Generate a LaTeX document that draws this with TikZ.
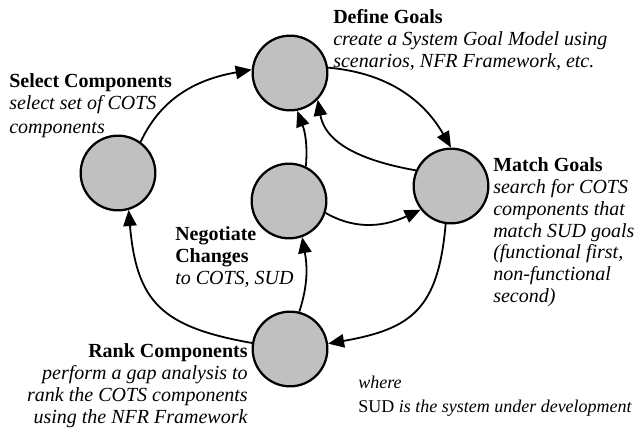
\documentclass[tikz,border=0pt]{standalone}
\usepackage{fontspec}
\setmainfont{Liberation Serif}
\usetikzlibrary{arrows.meta}

\begin{document}
\begin{tikzpicture}[x=0.75pt,y=0.75pt,yscale=-1,xscale=1,
	stage/.style={circle, draw=black, line width=1.7pt, fill={rgb, 255:red, 192; green, 192; blue, 192}, minimum size=56pt, inner sep=0pt},
	flow/.style={line width=1.35pt, -{Triangle[length=12pt,width=10pt]}},
	lbl/.style={font=\fontsize{15pt}{16.4pt}\selectfont, inner sep=0pt}]
	\useasboundingbox (0,0) rectangle (637,433);
	
	% the five steps
	\node [stage] (dg) at (290,73) {};
	\node [stage] (sc) at (118,173) {};
	\node [stage] (nc) at (289,201) {};
	\node [stage] (mg) at (451,186) {};
	\node [stage] (rc) at (290,349) {};
	
	% flows between steps
	\draw [flow] (sc.54) to[out=-65,in=170] (dg.175);
	\draw [flow] (dg.8) to[out=5,in=-120] (mg.90);
	\draw [flow] (mg.156) to[out=-170,in=80] (dg.-44);
	\draw [flow] (nc.64) to[out=-85,in=70] (dg.-79);
	\draw [flow] (nc.-18) to[out=30,in=155] (mg.218);
	\draw [flow] (rc.76) to[out=-72,in=80] (nc.-70);
	\draw [flow] (mg.-98) to[out=95,in=-10,looseness=1.3] (rc.8);
	\draw [flow] (rc.171) to[out=-170,in=85,looseness=1.3] (sc.-74);
	
	% labels (top of first line = baseline - 13.7)
	\node [lbl, align=left, anchor=north west] (dglbl) at (333,9.3) {\textbf{Define Goals}\\\textit{create a System Goal Model using}\\\textit{scenarios, NFR Framework, etc.}};
	\node [lbl, align=left, anchor=north west] (sclbl) at (9,73.3) {\textbf{Select Components}\\\textit{select set of COTS}\\[1.5pt]\textit{components}};
	\node [lbl, align=left, anchor=north west] (mglbl) at (493,157.3) {\textbf{Match Goals}\\\textit{search for COTS}\\\textit{components that}\\\textit{match SUD goals}\\\textit{(functional first,}\\\textit{non-functional}\\\textit{second)}};
	\node [lbl, align=left, anchor=north west] (nclbl) at (175,226.3) {\textbf{Negotiate}\\\textbf{Changes}\\\textit{to COTS, SUD}};
	\node [lbl, align=right, anchor=north east] (rclbl) at (248,343.3) {\textbf{Rank Components}\\\textit{perform a gap analysis to}\\\textit{rank the COTS components}\\\textit{using the NFR Framework}};
	\node [lbl, font=\fontsize{13.5pt}{15pt}\selectfont, align=left, anchor=north west] (note) at (358,376) {\textit{where}\\[3pt]SUD \textit{is the system under development}};
	
\end{tikzpicture}
\end{document}
